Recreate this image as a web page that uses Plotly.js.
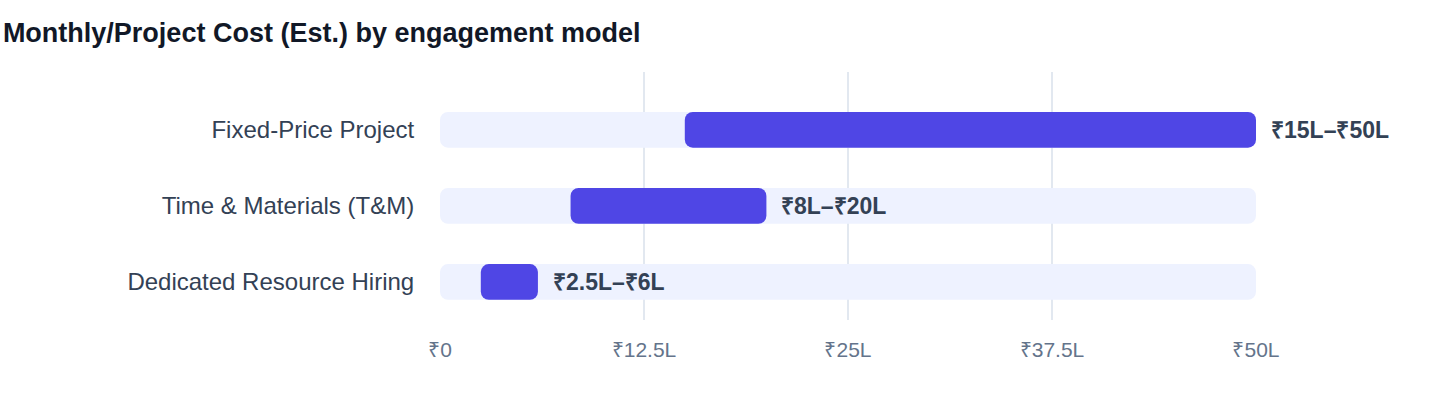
<!DOCTYPE html>
<html>
<head>
<meta charset="utf-8">
<script src="https://cdn.plot.ly/plotly-3.0.1.min.js"></script>
<style>
  html, body { margin: 0; padding: 0; background: #fff; }
  #chart { width: 1440px; height: 408px; }
</style>
</head>
<body>
<div id="chart"></div>
<script>
// engagement models, bottom to top
var models = ['Dedicated Resource Hiring', 'Time & Materials (T&M)', 'Fixed-Price Project'];
var lowCost = [2.5, 8, 15];     // ₹ lakh
var highCost = [6, 20, 50];     // ₹ lakh
var rangeLabels = ['₹2.5L–₹6L', '₹8L–₹20L', '₹15L–₹50L'];
var axisMax = 50;
var tickVals = [0, 12.5, 25, 37.5, 50];
var tickText = ['₹0', '₹12.5L', '₹25L', '₹37.5L', '₹50L'];

var fontFam = '"Liberation Sans", Arial, Helvetica, sans-serif';

// light track behind each row
let track = {
    type: 'bar',
    orientation: 'h',
    y: models,
    x: models.map(function () { return axisMax; }),
    base: 0,
    width: 0.47,
    marker: { color: '#EEF2FF', cornerradius: 8 },
    hoverinfo: 'skip'
};

// actual cost range
let span = {
    type: 'bar',
    orientation: 'h',
    y: models,
    x: highCost.map(function (h, i) { return h - lowCost[i]; }),
    base: lowCost,
    width: 0.47,
    marker: { color: '#4F46E5', cornerradius: 8 },
    hovertemplate: '%{y}<extra></extra>'
};

let notes = models.map(function (m, i) {
    return {
        x: highCost[i], y: m, xref: 'x', yref: 'y',
        text: '<b>' + rangeLabels[i] + '</b>',
        showarrow: false, xanchor: 'left', xshift: 13,
        font: { family: fontFam, size: 23, color: '#334155' }
    };
});

let layout = {
    width: 1440,
    height: 408,
    paper_bgcolor: '#ffffff',
    plot_bgcolor: '#ffffff',
    margin: { l: 440, r: 184, t: 72, b: 88 },
    barmode: 'overlay',
    showlegend: false,
    font: { family: fontFam },
    title: {
        text: '<b>Monthly/Project Cost (Est.) by engagement model</b>',
        xref: 'container', yref: 'container',
        x: 0.002, xanchor: 'left',
        y: 0.92, yanchor: 'middle',
        font: { family: fontFam, size: 27, color: '#111827' }
    },
    xaxis: {
        range: [0, axisMax],
        tickvals: tickVals,
        ticktext: tickText,
        showgrid: true,
        gridcolor: '#E2E8F0',
        gridwidth: 1.5,
        zeroline: false,
        showline: false,
        ticks: 'outside',
        ticklen: 11,
        tickcolor: 'rgba(0,0,0,0)',
        tickfont: { family: fontFam, size: 21, color: '#64748B' },
        fixedrange: true
    },
    yaxis: {
        range: [-0.5, 2.76],
        showgrid: false,
        zeroline: false,
        showline: false,
        ticks: 'outside',
        ticklen: 20,
        tickcolor: 'rgba(0,0,0,0)',
        tickfont: { family: fontFam, size: 24, color: '#334155' },
        fixedrange: true
    },
    annotations: notes
};

Plotly.newPlot('chart', [track, span], layout, { displayModeBar: false, staticPlot: true });
</script>
</body>
</html>
